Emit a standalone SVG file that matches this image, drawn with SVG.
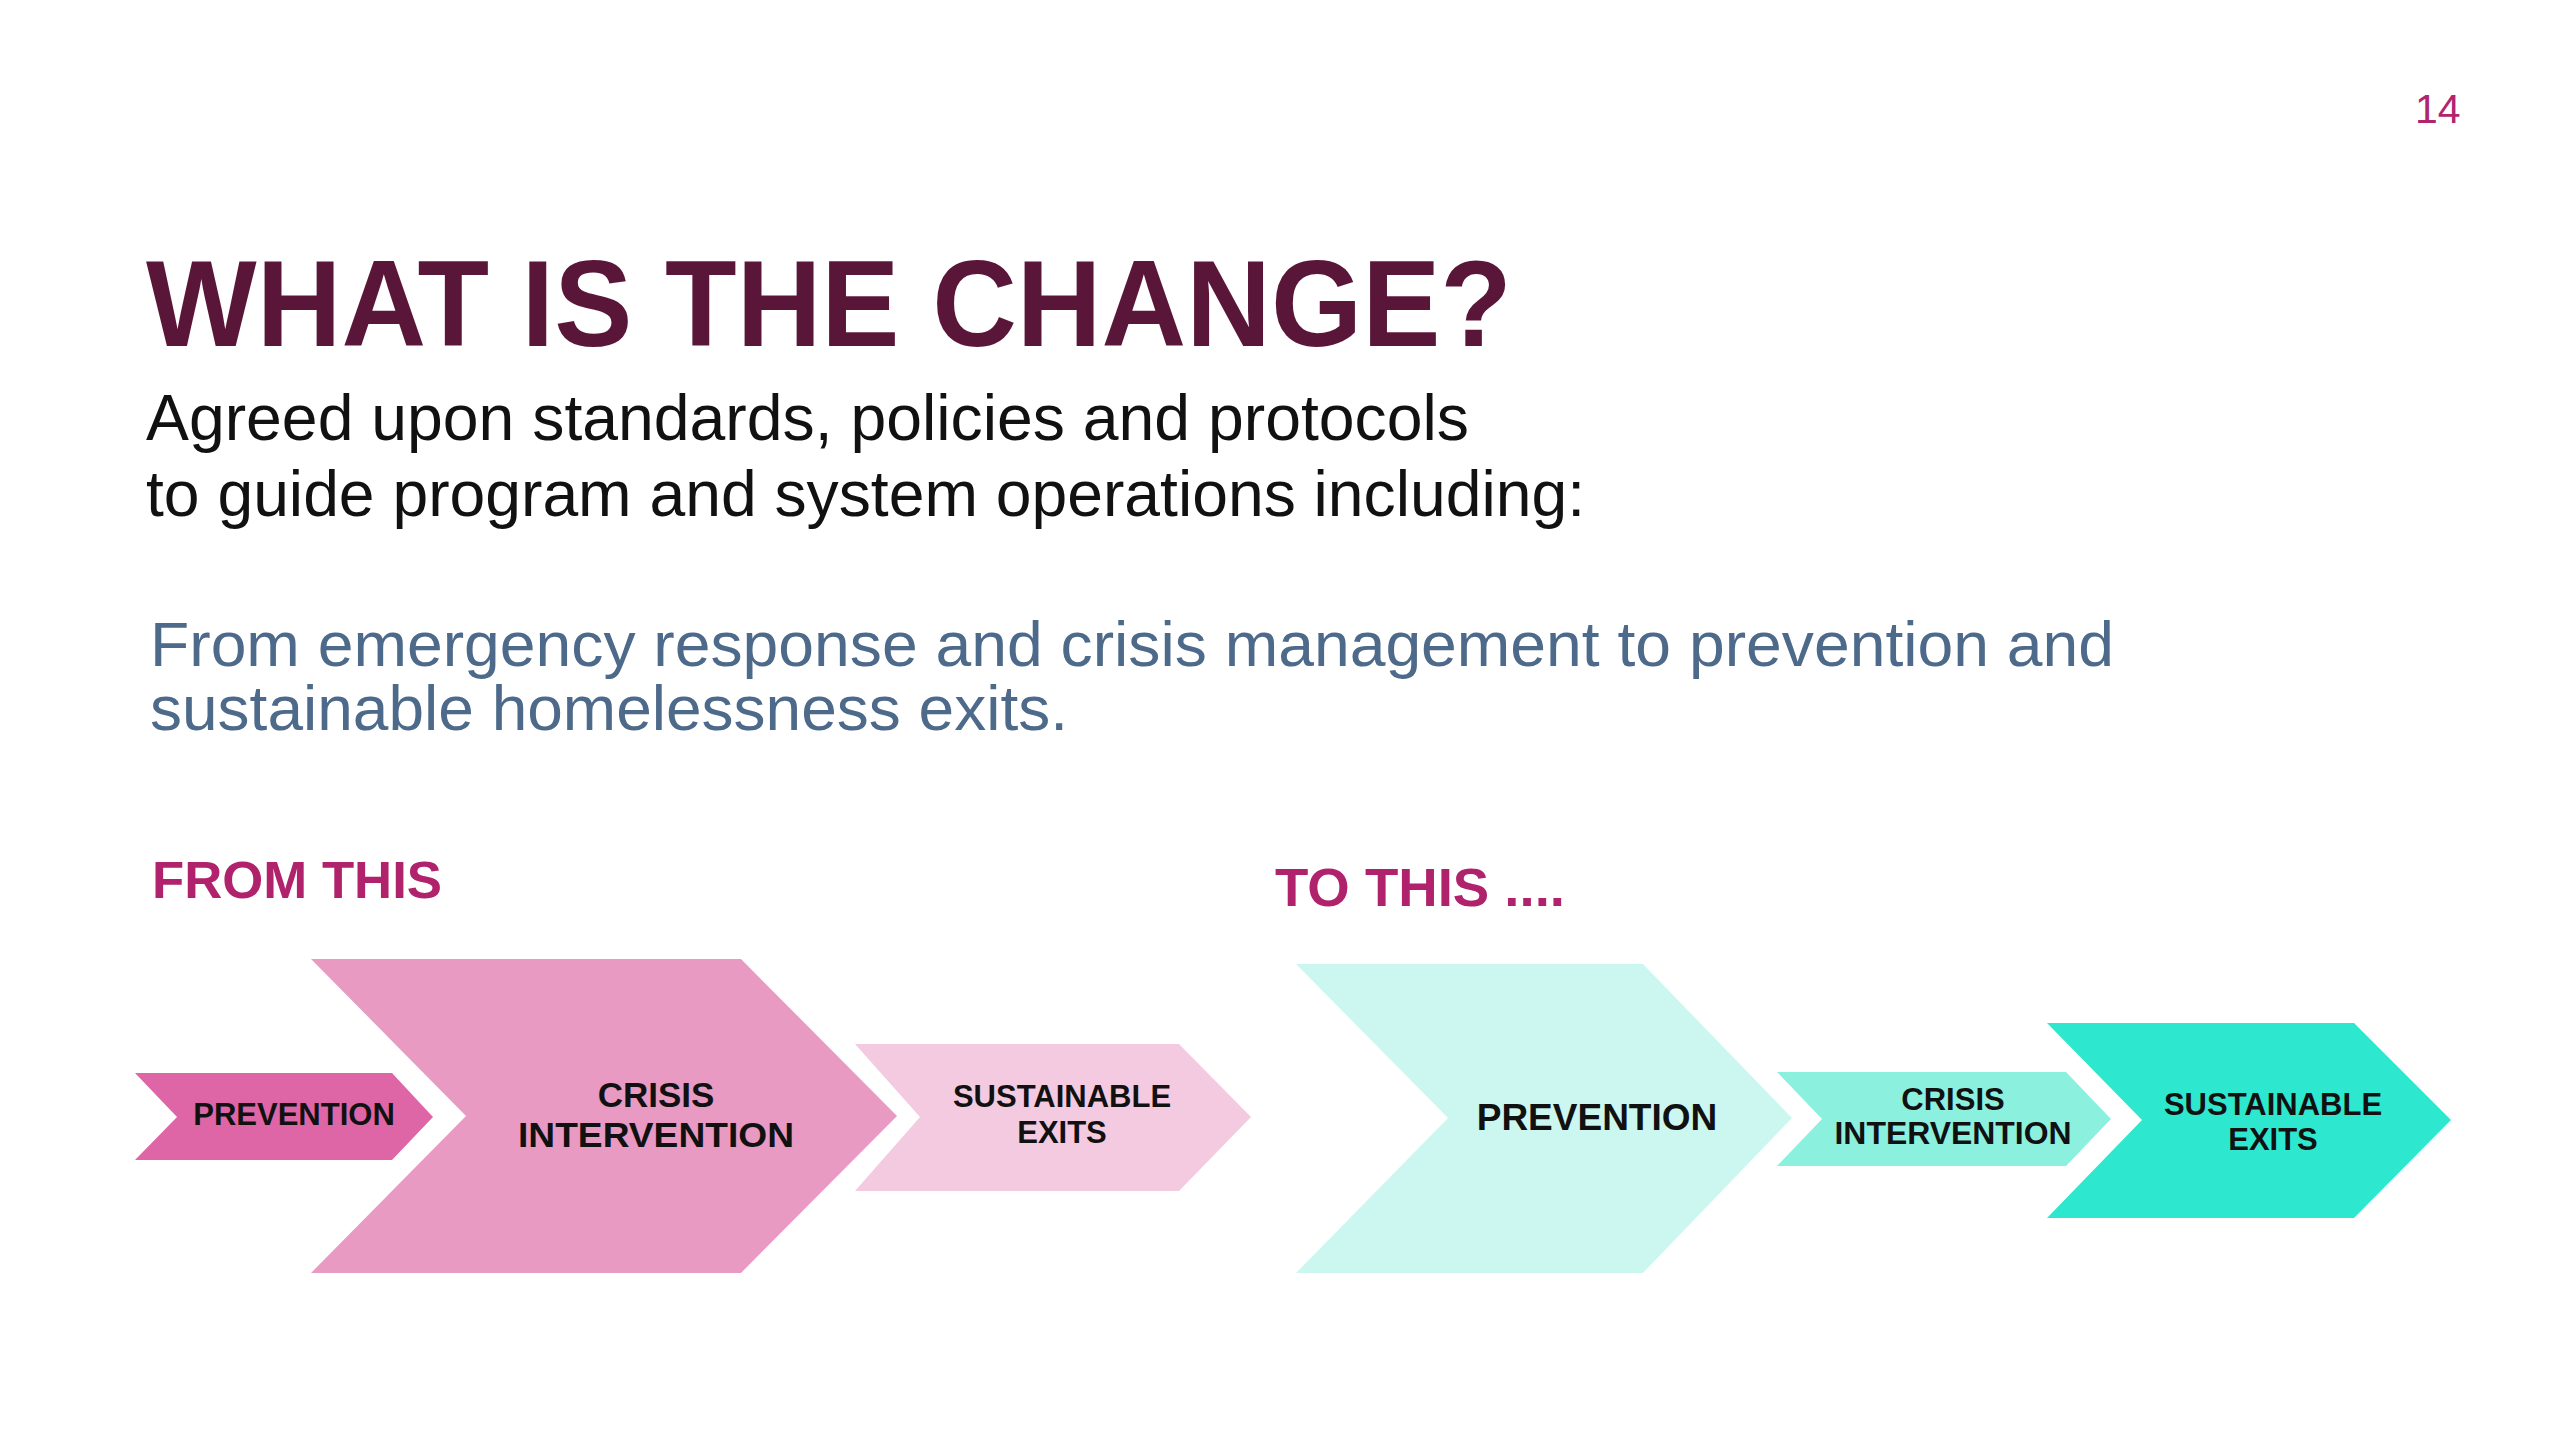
<svg xmlns="http://www.w3.org/2000/svg" width="2560" height="1440" viewBox="0 0 2560 1440">
<style>
.lbl{font-family:"Liberation Sans",Arial,sans-serif;font-weight:bold;fill:#111;text-anchor:middle}
.sec{font-family:"Liberation Sans",Arial,sans-serif;font-weight:bold;fill:#B0236C}
.body{font-family:"Liberation Sans",Arial,sans-serif}
</style>
<rect width="2560" height="1440" fill="#ffffff"/>
<text x="2415" y="123" font-family="Liberation Sans, Arial, sans-serif" font-size="41" fill="#B0256E">14</text>
<text x="146" y="346" font-family="Liberation Sans, Arial, sans-serif" font-weight="bold" font-size="122" fill="#5A1638" textLength="1366" lengthAdjust="spacingAndGlyphs">WHAT IS THE CHANGE?</text>
<text class="body" x="146" y="440" font-size="65" fill="#111" textLength="1323" lengthAdjust="spacingAndGlyphs">Agreed upon standards, policies and protocols</text>
<text class="body" x="146" y="516" font-size="65" fill="#111" textLength="1439" lengthAdjust="spacingAndGlyphs">to guide program and system operations including:</text>
<text class="body" x="150" y="666" font-size="63" fill="#4D6A8A" textLength="1964" lengthAdjust="spacingAndGlyphs">From emergency response and crisis management to prevention and</text>
<text class="body" x="150" y="730" font-size="63" fill="#4D6A8A" textLength="918" lengthAdjust="spacingAndGlyphs">sustainable homelessness exits.</text>
<text class="sec" x="152" y="898" font-size="51" textLength="290" lengthAdjust="spacingAndGlyphs">FROM THIS</text>
<text class="sec" x="1275" y="906" font-size="53" textLength="290" lengthAdjust="spacingAndGlyphs">TO THIS ....</text>
<g id="connectors"></g>
<g id="from-prevention">
<polygon points="135,1073 392,1073 433,1117 392,1160 135,1160 177,1117" fill="#DF66A6"/>
<text class="lbl" x="294" y="1125" font-size="31">PREVENTION</text>
</g>
<g id="from-crisis">
<polygon points="311,959 741,959 897,1116 741,1273 311,1273 466,1116" fill="#E89AC3"/>
<text class="lbl" x="656" y="1107" font-size="35">CRISIS</text>
<text class="lbl" x="656" y="1147" font-size="35" textLength="276" lengthAdjust="spacingAndGlyphs">INTERVENTION</text>
</g>
<g id="from-exits">
<polygon points="855,1044 1179,1044 1251,1117 1179,1191 855,1191 920,1117" fill="#F4CAE0"/>
<text class="lbl" x="1062" y="1107" font-size="31">SUSTAINABLE</text>
<text class="lbl" x="1062" y="1143" font-size="31">EXITS</text>
</g>
<g id="to-prevention">
<polygon points="1296,964 1643,964 1792,1118 1643,1273 1296,1273 1448,1118" fill="#CCF7F0"/>
<text class="lbl" x="1597" y="1130" font-size="37">PREVENTION</text>
</g>
<g id="to-crisis">
<polygon points="1777,1072 2066,1072 2111,1119 2066,1166 1777,1166 1822,1119" fill="#8CF0DE"/>
<text class="lbl" x="1953" y="1110" font-size="31">CRISIS</text>
<text class="lbl" x="1953" y="1144" font-size="31" textLength="237" lengthAdjust="spacingAndGlyphs">INTERVENTION</text>
</g>
<g id="to-exits">
<polygon points="2047,1023 2354,1023 2451,1120 2354,1218 2047,1218 2142,1120" fill="#2DE8CF"/>
<text class="lbl" x="2273" y="1115" font-size="31">SUSTAINABLE</text>
<text class="lbl" x="2273" y="1150" font-size="31">EXITS</text>
</g>
</svg>
